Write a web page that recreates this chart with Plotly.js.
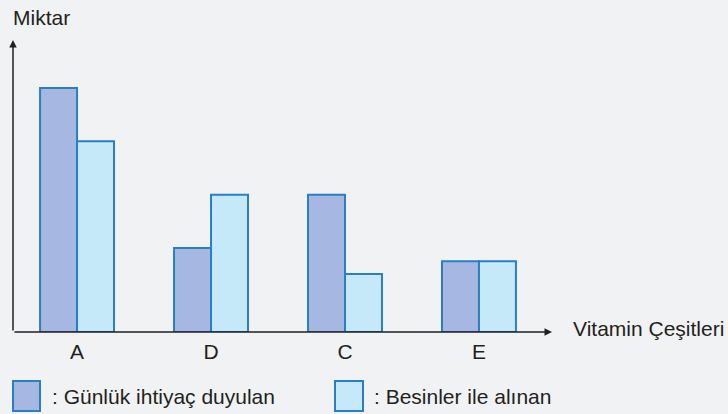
<!DOCTYPE html>
<html>
<head>
<meta charset="utf-8">
<script src="https://cdn.plot.ly/plotly-3.0.1.min.js"></script>
<style>html,body{margin:0;padding:0;background:#f1f2f4;}#chart{width:728px;height:414px;}</style>
</head>
<body>
<div id="chart"></div>
<script>
var categories = ["A", "D", "C", "E"];
var gunlukIhtiyac = [18.3, 6.3, 10.3, 5.3];
var besinlerIle = [14.3, 10.3, 4.35, 5.3];
var seriesNames = [": Günlük ihtiyaç duyulan", ": Besinler ile alınan"];
var xTitle = "Vitamin Çeşitleri";
var yTitle = "Miktar";

var darkFill = "#a6b8e1";
var lightFill = "#c6e9f9";
var edge = "#2a7fc4";
var ink = "#231f20";
var font = "Liberation Sans, Arial, sans-serif";

var traces = [
  {type: "bar", x: categories, y: gunlukIhtiyac, name: seriesNames[0],
   marker: {color: darkFill, line: {color: edge, width: 2}}, hoverinfo: "skip"},
  {type: "bar", x: categories, y: besinlerIle, name: seriesNames[1],
   marker: {color: lightFill, line: {color: edge, width: 2}}, hoverinfo: "skip"}
];

function px2x(px) { return (px - 13) / 539; }
function px2y(py) { return (332 - py) / 292; }

var layout = {
  width: 728, height: 414,
  margin: {l: 13, r: 176, t: 40, b: 82},
  paper_bgcolor: "#f1f2f4", plot_bgcolor: "#f1f2f4",
  showlegend: false,
  barmode: "group", bargap: 0.448, bargroupgap: 0,
  font: {family: font, size: 21, color: ink},
  xaxis: {type: "category", range: [-0.478, 3.545], showgrid: false, zeroline: false,
          showline: false, ticks: "", ticklabelstandoff: 5, tickfont: {size: 21, color: ink}, fixedrange: true},
  yaxis: {range: [0, 21.9], showgrid: false, zeroline: false, showline: false,
          showticklabels: false, ticks: "", fixedrange: true},
  shapes: [
    {type: "rect", xref: "paper", yref: "paper", x0: px2x(13), x1: px2x(40), y0: px2y(411), y1: px2y(381),
     fillcolor: darkFill, line: {color: edge, width: 2}},
    {type: "rect", xref: "paper", yref: "paper", x0: px2x(335), x1: px2x(363), y0: px2y(411), y1: px2y(381),
     fillcolor: lightFill, line: {color: edge, width: 2}}
  ],
  annotations: [
    {xref: "paper", yref: "paper", axref: "paper", ayref: "paper", x: 0, y: 1, ax: 0, ay: 0,
     showarrow: true, arrowhead: 2, arrowsize: 1, arrowwidth: 1.5, arrowcolor: ink, text: "", standoff: 0},
    {xref: "paper", yref: "paper", axref: "paper", ayref: "paper", x: 1, y: 0, ax: 0, ay: 0,
     showarrow: true, arrowhead: 2, arrowsize: 1, arrowwidth: 1.5, arrowcolor: ink, text: "", standoff: 0},
    {xref: "paper", yref: "paper", x: px2x(11), y: px2y(17), xanchor: "left", yanchor: "middle",
     showarrow: false, text: yTitle, font: {size: 21, color: ink}},
    {xref: "paper", yref: "paper", x: px2x(571), y: px2y(328), xanchor: "left", yanchor: "middle",
     showarrow: false, text: xTitle, font: {size: 21, color: ink}},
    {xref: "paper", yref: "paper", x: px2x(50), y: px2y(396), xanchor: "left", yanchor: "middle",
     showarrow: false, text: seriesNames[0], font: {size: 21, color: ink}},
    {xref: "paper", yref: "paper", x: px2x(372), y: px2y(396), xanchor: "left", yanchor: "middle",
     showarrow: false, text: seriesNames[1], font: {size: 21, color: ink}}
  ]
};

Plotly.newPlot("chart", traces, layout, {staticPlot: true, displayModeBar: false});
</script>
</body>
</html>
